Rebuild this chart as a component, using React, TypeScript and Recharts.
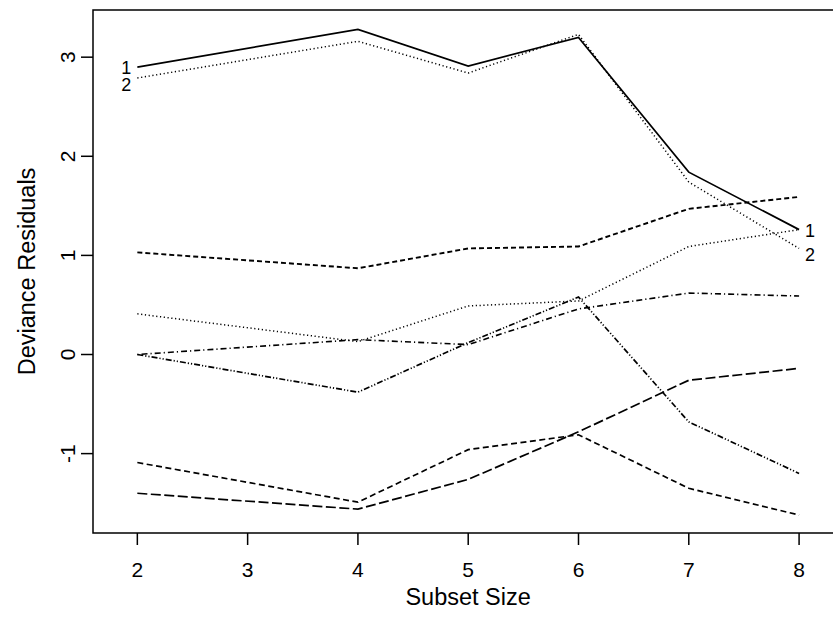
import React from 'react';
import { LineChart, Line, XAxis, YAxis, ReferenceArea, Label } from 'recharts';

// subset sizes (no model of size 3 in the output)
const sizes = [2, 4, 5, 6, 7, 8];

const obs1 = [2.90, 3.28, 2.91, 3.20, 1.84, 1.26];
const obs2 = [2.79, 3.16, 2.84, 3.23, 1.74, 1.07];
const obs3 = [1.03, 0.87, 1.07, 1.09, 1.47, 1.59];
const obs4 = [0.41, 0.13, 0.49, 0.54, 1.09, 1.26];
const obs5 = [0.0, 0.15, 0.10, 0.46, 0.62, 0.59];
const obs6 = [0.0, -0.38, 0.12, 0.58, -0.68, -1.20];
const obs7 = [-1.09, -1.49, -0.96, -0.81, -1.35, -1.62];
const obs8 = [-1.40, -1.56, -1.26, -0.78, -0.26, -0.14];

const xTicks = [2, 3, 4, 5, 6, 7, 8];
const yTicks = [-1, 0, 1, 2, 3];

const X_DOMAIN: [number, number] = [1.598, 8.4];
const Y_DOMAIN: [number, number] = [-1.801, 3.476];

const data = sizes.map((s, i) => ({
    size: s,
    o1: obs1[i],
    o2: obs2[i],
    o3: obs3[i],
    o4: obs4[i],
    o5: obs5[i],
    o6: obs6[i],
    o7: obs7[i],
    o8: obs8[i],
}));

const FONT = '"Liberation Sans", Arial, sans-serif';

// tag: number written at both ends, shift: vertical nudge of that number
const series = [
    { key: 'o1', dash: undefined, width: 1.7, tag: '1', shift: 0 },
    { key: 'o2', dash: '1.2 2.6', width: 1.5, tag: '2', shift: 6 },
    { key: 'o3', dash: '5 3', width: 1.9, tag: '', shift: 0 },
    { key: 'o4', dash: '1.2 2.6', width: 1.5, tag: '', shift: 0 },
    { key: 'o5', dash: '1.2 3 6 3', width: 1.6, tag: '', shift: 0 },
    { key: 'o6', dash: '6 2 1.2 2 1.2 2', width: 1.7, tag: '', shift: 0 },
    { key: 'o7', dash: '6 3.5', width: 1.7, tag: '', shift: 0 },
    { key: 'o8', dash: '10 3.5', width: 1.7, tag: '', shift: 0 },
];

const XTick = (props: any) => {
    const { x, y, payload } = props;
    return (
        <text x={x} y={y + 30} textAnchor="middle" fontSize={21} fontFamily={FONT} fill="#000">
            {payload.value}
        </text>
    );
};

const YTick = (props: any) => {
    const { x, y, payload } = props;
    return (
        <text
            x={0}
            y={0}
            transform={`translate(${x - 4},${y}) rotate(-90)`}
            textAnchor="middle"
            fontSize={21}
            fontFamily={FONT}
            fill="#000"
        >
            {payload.value}
        </text>
    );
};

// number the first two observations at both ends of their lines
const endTag = (tag: string, shift: number) => (props: any) => {
    const { x, y, index } = props;
    if (!tag || (index !== 0 && index !== sizes.length - 1)) return <g key={`t${index}`} />;
    const dx = index === 0 ? -11 : 11;
    return (
        <text
            key={`t${index}`}
            x={x + dx}
            y={y + shift + 7}
            textAnchor="middle"
            fontSize={18}
            fontFamily={FONT}
            fill="#000"
        >
            {tag}
        </text>
    );
};

export default function App() {
    return (
        <div
            style={{
                position: 'absolute',
                left: 0,
                top: 0,
                width: 833,
                height: 621,
                overflow: 'hidden',
                background: '#fff',
            }}
        >
            <LineChart
                width={860}
                height={621}
                data={data}
                margin={{ top: 10, right: 16.8, bottom: 0, left: 0 }}
            >
                <XAxis
                    dataKey="size"
                    type="number"
                    domain={X_DOMAIN}
                    ticks={xTicks}
                    allowDataOverflow
                    height={88}
                    axisLine={false}
                    tickSize={12}
                    tickLine={{ stroke: '#000', strokeWidth: 1.5 }}
                    tick={<XTick />}
                    interval={0}
                >
                    <Label
                        value="Subset Size"
                        position="insideBottom"
                        offset={16}
                        fontSize={23.5}
                        fontFamily={FONT}
                        fill="#000"
                    />
                </XAxis>
                <YAxis
                    type="number"
                    domain={Y_DOMAIN}
                    ticks={yTicks}
                    allowDataOverflow
                    width={93}
                    axisLine={false}
                    tickSize={12}
                    tickLine={{ stroke: '#000', strokeWidth: 1.5 }}
                    tick={<YTick />}
                    interval={0}
                >
                    <Label
                        content={() => (
                            <text
                                transform="translate(35,271.5) rotate(-90)"
                                textAnchor="middle"
                                fontSize={23.5}
                                fontFamily={FONT}
                                fill="#000"
                            >
                                Deviance Residuals
                            </text>
                        )}
                    />
                </YAxis>
                <ReferenceArea
                    x1={X_DOMAIN[0]}
                    x2={X_DOMAIN[1]}
                    y1={Y_DOMAIN[0]}
                    y2={Y_DOMAIN[1]}
                    fill="none"
                    fillOpacity={0}
                    stroke="#000"
                    strokeWidth={1.5}
                    ifOverflow="visible"
                />
                {series.map((s) => (
                    <Line
                        key={s.key}
                        dataKey={s.key}
                        type="linear"
                        stroke="#000"
                        strokeWidth={s.width}
                        strokeDasharray={s.dash}
                        dot={false}
                        activeDot={false}
                        isAnimationActive={false}
                        label={endTag(s.tag, s.shift)}
                    />
                ))}
            </LineChart>
        </div>
    );
}
